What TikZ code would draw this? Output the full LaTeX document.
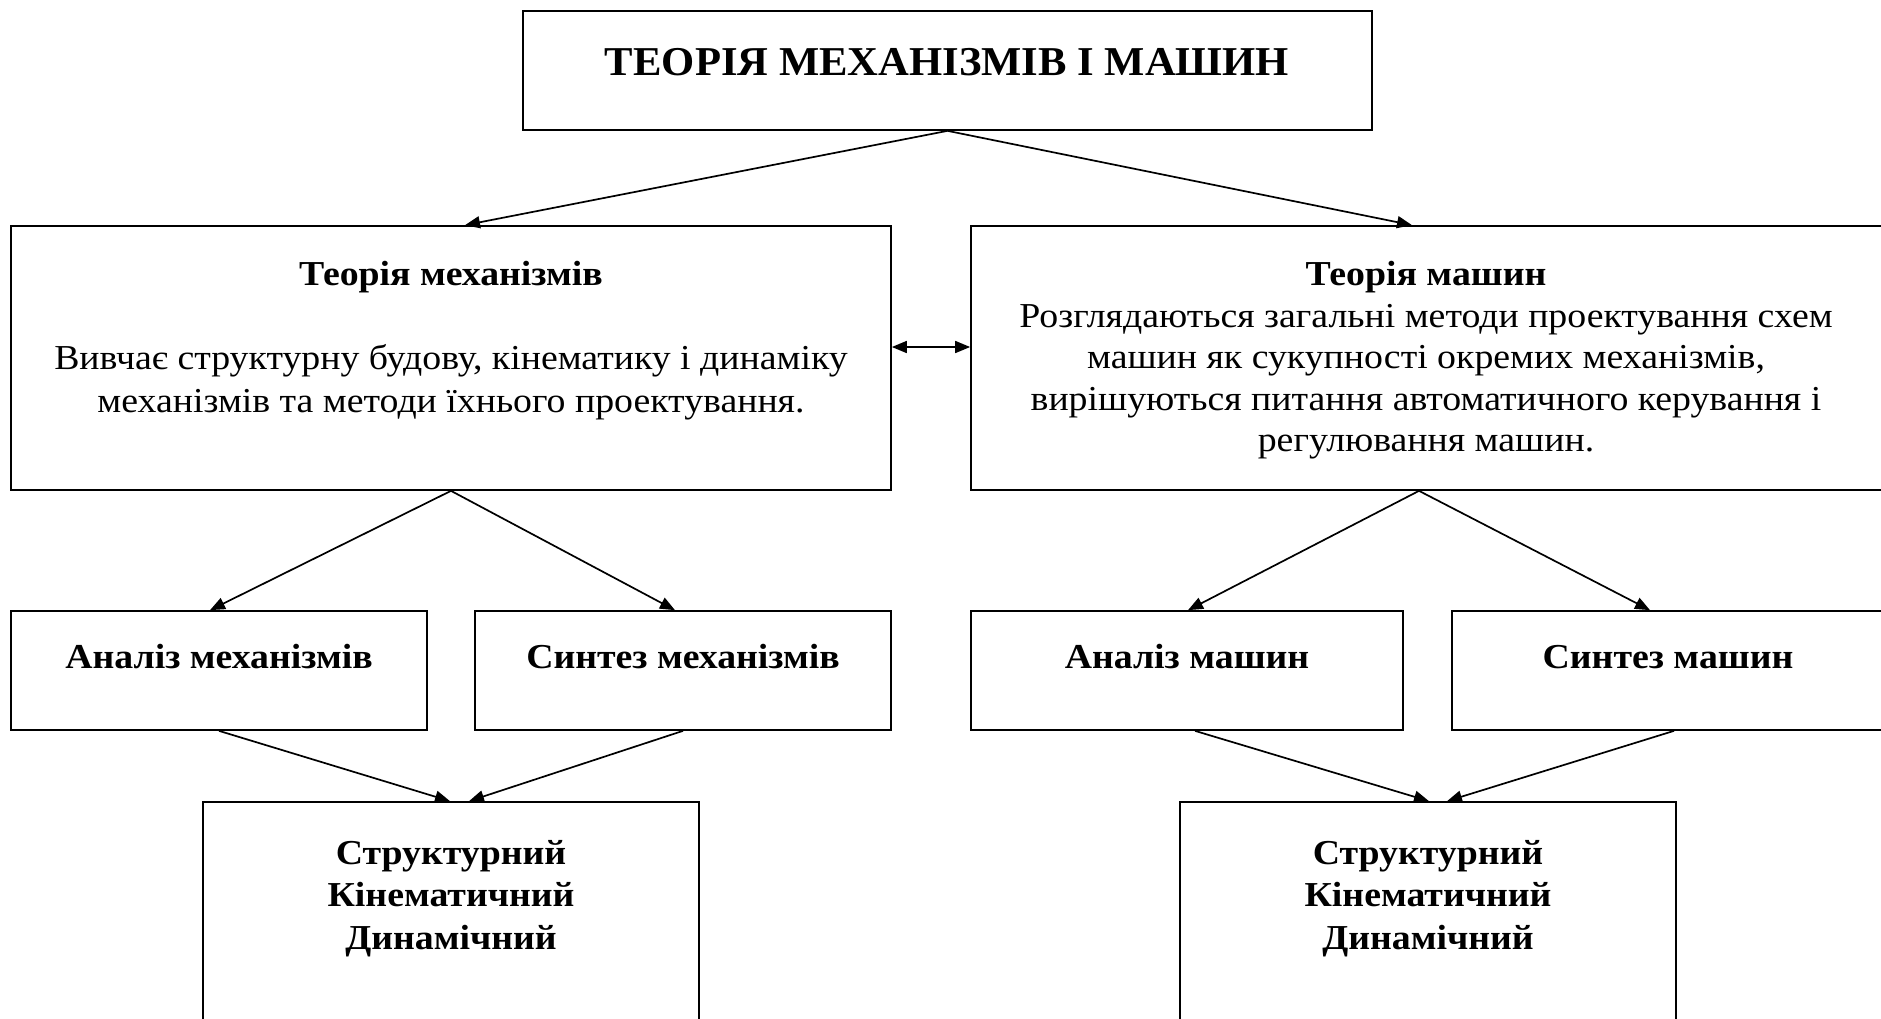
\documentclass[tikz,border=0pt]{standalone}
\usepackage{fontspec}
\setmainfont[FakeStretch=1.08]{Liberation Serif}
\newfontfamily\ttlfont[FakeStretch=1.04]{Liberation Serif}
\usetikzlibrary{arrows.meta}
\begin{document}
\begin{tikzpicture}[x=1pt,y=-1pt,
  box/.style={draw, line width=1.7pt, inner sep=0pt, rectangle},
  con/.style={line width=1.7pt, -{Triangle[length=15pt,width=12pt]}},
  dcon/.style={line width=1.7pt, {Triangle[length=15pt,width=12pt]}-{Triangle[length=15pt,width=12pt]}},
  body/.style={font=\fontsize{35}{42}\selectfont, align=center, inner sep=0pt},
  head/.style={font=\fontsize{35}{42.5}\selectfont\bfseries, align=center, inner sep=0pt},
  ttl/.style={font=\ttlfont\fontsize{41}{48}\selectfont\bfseries, align=center, inner sep=0pt}]
\useasboundingbox (0,0) rectangle (1881,1018);
\clip (0,0) rectangle (1881,1018);
% boxes
\node[box, minimum width=849pt, minimum height=119pt] (top) at (947.5,70.5) {};
\node[box, minimum width=880pt, minimum height=264pt] (lbig) at (451,358) {};
\node[box, minimum width=916pt, minimum height=264pt] (rbig) at (1429,358) {};
\node[box, minimum width=416pt, minimum height=119pt] (la) at (219,670.5) {};
\node[box, minimum width=416pt, minimum height=119pt] (ls) at (683,670.5) {};
\node[box, minimum width=432pt, minimum height=119pt] (ra) at (1187,670.5) {};
\node[box, minimum width=432pt, minimum height=119pt] (rs) at (1668,670.5) {};
\node[box, minimum width=496pt, minimum height=228pt] (lres) at (451,916) {};
\node[box, minimum width=496pt, minimum height=228pt] (rres) at (1428,916) {};
% texts
\node[ttl, anchor=base] (ttop) at (947,75) {ТЕОРІЯ МЕХАНІЗМІВ І МАШИН};
\node[head, anchor=base] (tlh) at (451,285) {Теорія механізмів};
\node[body, anchor=base] (tl1) at (451,369) {Вивчає структурну будову, кінематику і динаміку};
\node[body, anchor=base] (tl2) at (451,412) {механізмів та методи їхнього проектування.};
\node[head, anchor=base] (trh) at (1426,285) {Теорія машин};
\node[body, anchor=base] (tr1) at (1426,327) {Розглядаються загальні методи проектування схем};
\node[body, anchor=base] (tr2) at (1426,368) {машин як сукупності окремих механізмів,};
\node[body, anchor=base] (tr3) at (1426,410) {вирішуються питання автоматичного керування і};
\node[body, anchor=base] (tr4) at (1426,451) {регулювання машин.};
\node[head, anchor=base] (tla) at (219,668) {Аналіз механізмів};
\node[head, anchor=base] (tls) at (683,668) {Синтез механізмів};
\node[head, anchor=base] (tra) at (1187,668) {Аналіз машин};
\node[head, anchor=base] (trs) at (1668,668) {Синтез машин};
\node[head, anchor=base] (tlr) at (451,949) {Структурний\\Кінематичний\\Динамічний};
\node[head, anchor=base] (trr) at (1428,949) {Структурний\\Кінематичний\\Динамічний};
% connectors
\draw[con] (top.south) -- ([xshift=14pt]lbig.north);
\draw[con] (top.south) -- ([xshift=-17pt]rbig.north);
\draw[dcon] ([yshift=11pt]lbig.east) -- ([yshift=11pt]rbig.west);
\draw[con] (lbig.south) -- ([xshift=-9pt]la.north);
\draw[con] (lbig.south) -- ([xshift=-8pt]ls.north);
\draw[con] ([xshift=-10pt]rbig.south) -- ([xshift=1pt]ra.north);
\draw[con] ([xshift=-10pt]rbig.south) -- ([xshift=-18pt]rs.north);
\draw[con] (la.south) -- ([xshift=-1pt]lres.north);
\draw[con] (ls.south) -- ([xshift=18pt]lres.north);
\draw[con] ([xshift=8pt]ra.south) -- ([xshift=1pt]rres.north);
\draw[con] ([xshift=6pt]rs.south) -- ([xshift=19pt]rres.north);
\end{tikzpicture}
\end{document}
